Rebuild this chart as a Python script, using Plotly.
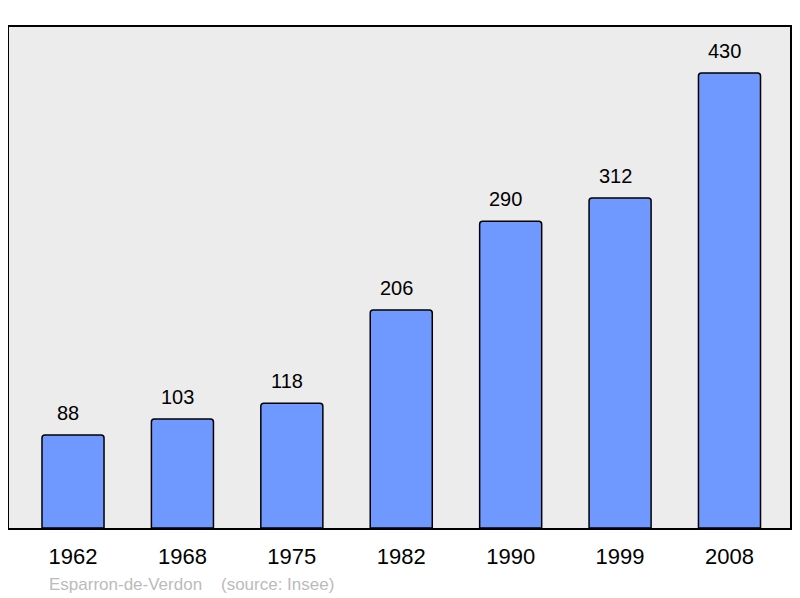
import plotly.graph_objects as go

years = ["1962", "1968", "1975", "1982", "1990", "1999", "2008"]
population = [88, 103, 118, 206, 290, 312, 430]
caption = "Esparron-de-Verdon    (source: Insee)"

xpos = list(range(len(years)))
FONT = "Liberation Sans, Arial, sans-serif"

fig = go.Figure()
fig.add_trace(go.Bar(
    x=xpos, y=population, width=0.567,
    marker=dict(color="#7099ff", line=dict(color="#000000", width=1.5), cornerradius=3),
    hoverinfo="skip",
))

for x, v in zip(xpos, population):
    fig.add_annotation(x=x, y=v, text=str(v), showarrow=False, yanchor="bottom",
                       yshift=9, xshift=-5, font=dict(family=FONT, size=20, color="#000"))

fig.add_annotation(xref="paper", yref="paper", x=(47 - 9) / 781, y=0, yshift=-56,
                   xanchor="left", yanchor="middle",
                   text=caption.replace(" ", "&nbsp;"), showarrow=False,
                   font=dict(family=FONT, size=17, color="#bbbbbb"))

# the page body has an 8px margin, so the figure is offset accordingly
fig.update_layout(
    width=792, height=590,
    margin=dict(l=1, r=10, t=19, b=70, autoexpand=False),
    paper_bgcolor="white", plot_bgcolor="#ececec",
    showlegend=False,
    xaxis=dict(range=[-0.585, 6.553], tickvals=xpos, ticktext=years, showgrid=False, zeroline=False,
               showline=True, mirror=True, linecolor="#000", linewidth=2, ticks="",
               ticklabelstandoff=8, automargin=False,
               tickfont=dict(family=FONT, size=22, color="#000")),
    yaxis=dict(range=[0, 473.5], showgrid=False, zeroline=False, showticklabels=False,
               showline=True, mirror=True, linecolor="#000", linewidth=2, ticks="", automargin=False),
)

fig.write_html("out.html")
